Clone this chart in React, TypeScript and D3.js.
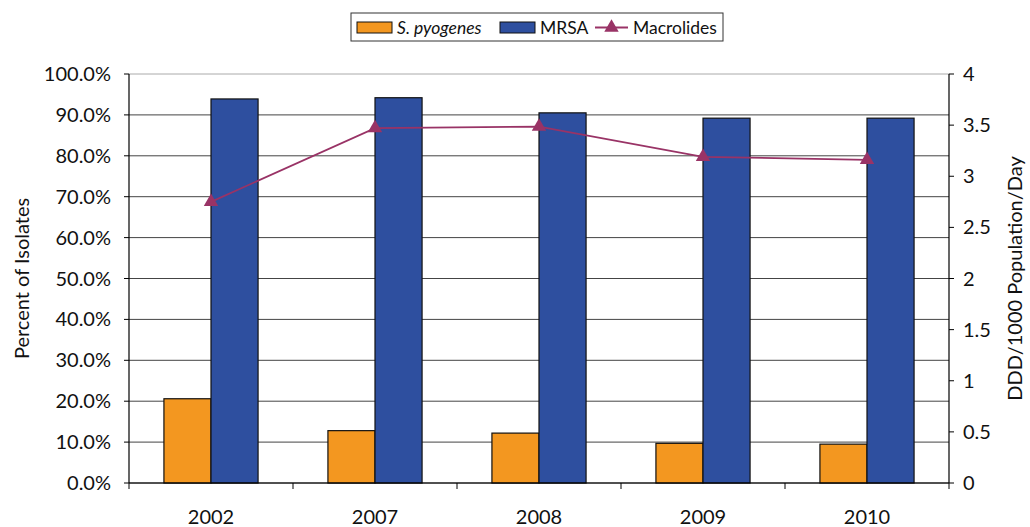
import { useEffect, useRef } from 'react'
import * as d3 from 'd3'

const W = 1030, H = 527
const years = ['2002', '2007', '2008', '2009', '2010']
const pyogenes = [20.6, 12.8, 12.2, 9.7, 9.5]
const mrsa = [93.9, 94.2, 90.5, 89.2, 89.2]
const macrolides = [2.75, 3.47, 3.485, 3.19, 3.16]
const leftTicks = [0, 10, 20, 30, 40, 50, 60, 70, 80, 90, 100]
const rightTicks = [0, 0.5, 1, 1.5, 2, 2.5, 3, 3.5, 4]

const ORANGE = '#F39720', BLUE = '#2E4F9F', PLUM = '#993366'
const FONT = 'Lato, "Open Sans", sans-serif'
const FS = 20

export default function App() {
  const svgRef = useRef<SVGSVGElement>(null)

  useEffect(() => {
    const svg = d3.select(svgRef.current)
    svg.selectAll('*').remove()
    const m = { l: 129, r: 949, t: 74, b: 483 }

    const x = d3.scaleBand<string>().domain(years).range([m.l, m.r])
    const yL = d3.scaleLinear([0, 100], [m.b, m.t])
    const yR = d3.scaleLinear([0, 4], [m.b, m.t])
    const bw = x.bandwidth() * 0.287

    // gridlines
    leftTicks.forEach((t) => {
      svg.append('line').attr('x1', m.l).attr('x2', m.r).attr('y1', yL(t)).attr('y2', yL(t))
        .attr('stroke', t === 100 ? '#aaa' : '#444').attr('stroke-width', 1)
    })

    // bars
    years.forEach((yr, i) => {
      const cx = x(yr)! + x.bandwidth() / 2
      svg.append('rect').attr('x', cx - bw).attr('y', yL(pyogenes[i])).attr('width', bw)
        .attr('height', yL(0) - yL(pyogenes[i])).attr('fill', ORANGE).attr('stroke', '#111').attr('stroke-width', 1.2)
      svg.append('rect').attr('x', cx).attr('y', yL(mrsa[i])).attr('width', bw)
        .attr('height', yL(0) - yL(mrsa[i])).attr('fill', BLUE).attr('stroke', '#111').attr('stroke-width', 1.2)
    })

    // axes lines
    svg.append('line').attr('x1', m.l).attr('x2', m.l).attr('y1', m.t).attr('y2', m.b).attr('stroke', '#000').attr('stroke-width', 1.2)
    svg.append('line').attr('x1', m.r).attr('x2', m.r).attr('y1', m.t).attr('y2', m.b).attr('stroke', '#000').attr('stroke-width', 1.2)
    svg.append('line').attr('x1', m.l).attr('x2', m.r).attr('y1', m.b).attr('y2', m.b).attr('stroke', '#000').attr('stroke-width', 1.2)

    // left ticks
    leftTicks.forEach((t) => {
      svg.append('line').attr('x1', m.l - 5).attr('x2', m.l).attr('y1', yL(t)).attr('y2', yL(t)).attr('stroke', '#000')
      svg.append('text').attr('x', m.l - 18).attr('y', yL(t)).attr('dy', '0.35em').attr('text-anchor', 'end')
        .attr('font-family', FONT).attr('font-size', FS).attr('fill', '#111').text(`${t.toFixed(1)}%`)
    })
    // right ticks
    rightTicks.forEach((t) => {
      svg.append('line').attr('x1', m.r).attr('x2', m.r + 5).attr('y1', yR(t)).attr('y2', yR(t)).attr('stroke', '#000')
      svg.append('text').attr('x', m.r + 14).attr('y', yR(t)).attr('dy', '0.35em').attr('text-anchor', 'start')
        .attr('font-family', FONT).attr('font-size', FS).attr('fill', '#111').text(String(t))
    })
    // bottom ticks
    ;[...years.map((yr) => x(yr)!), m.r].forEach((v) => {
      svg.append('line').attr('x1', v).attr('x2', v).attr('y1', m.b).attr('y2', m.b + 6).attr('stroke', '#000')
    })
    years.forEach((yr) => {
      svg.append('text').attr('x', x(yr)! + x.bandwidth() / 2).attr('y', 524).attr('text-anchor', 'middle')
        .attr('font-family', FONT).attr('font-size', FS).attr('fill', '#111').text(yr)
    })

    // macrolides line
    const line = d3.line<number>().x((_, i) => x(years[i])! + x.bandwidth() / 2).y((d) => yR(d))
    svg.append('path').attr('d', line(macrolides)).attr('fill', 'none').attr('stroke', PLUM).attr('stroke-width', 1.8)
    const tri = d3.symbol().type(d3.symbolTriangle).size(90)
    macrolides.forEach((d, i) => {
      svg.append('path').attr('d', tri()).attr('fill', PLUM)
        .attr('transform', `translate(${x(years[i])! + x.bandwidth() / 2},${yR(d)})`)
    })

    // axis titles
    svg.append('text').attr('transform', `translate(29,${(m.t + m.b) / 2}) rotate(-90)`).attr('text-anchor', 'middle')
      .attr('font-family', FONT).attr('font-size', FS).attr('fill', '#111').text('Percent of Isolates')
    svg.append('text').attr('transform', `translate(1022,${(m.t + m.b) / 2}) rotate(-90)`).attr('text-anchor', 'middle')
      .attr('font-family', FONT).attr('font-size', FS).attr('fill', '#111').text('DDD/1000 Population/Day')

    // legend
    const lg = svg.append('g')
    lg.append('rect').attr('x', 351).attr('y', 13).attr('width', 372).attr('height', 28)
      .attr('fill', '#fff').attr('stroke', '#333').attr('stroke-width', 1)
    lg.append('rect').attr('x', 357).attr('y', 22).attr('width', 35).attr('height', 11).attr('fill', ORANGE).attr('stroke', '#111')
    lg.append('text').attr('x', 397).attr('y', 33.5).attr('font-family', FONT).attr('font-size', 17.5).attr('font-style', 'italic')
      .attr('fill', '#111').text('S. pyogenes')
    lg.append('rect').attr('x', 500).attr('y', 22).attr('width', 35).attr('height', 11).attr('fill', BLUE).attr('stroke', '#111')
    lg.append('text').attr('x', 540).attr('y', 33.5).attr('font-family', FONT).attr('font-size', 17.5).attr('fill', '#111').text('MRSA')
    lg.append('line').attr('x1', 595).attr('x2', 628).attr('y1', 27.5).attr('y2', 27.5).attr('stroke', PLUM).attr('stroke-width', 1.8)
    lg.append('path').attr('d', tri()).attr('fill', PLUM).attr('transform', 'translate(611.5,27.5)')
    lg.append('text').attr('x', 633).attr('y', 33.5).attr('font-family', FONT).attr('font-size', 17.5).attr('fill', '#111').text('Macrolides')
  }, [])

  return (
    <svg ref={svgRef} width={W} height={H}
      style={{ position: 'absolute', left: 0, top: 0, background: '#fff', display: 'block' }} />
  )
}
